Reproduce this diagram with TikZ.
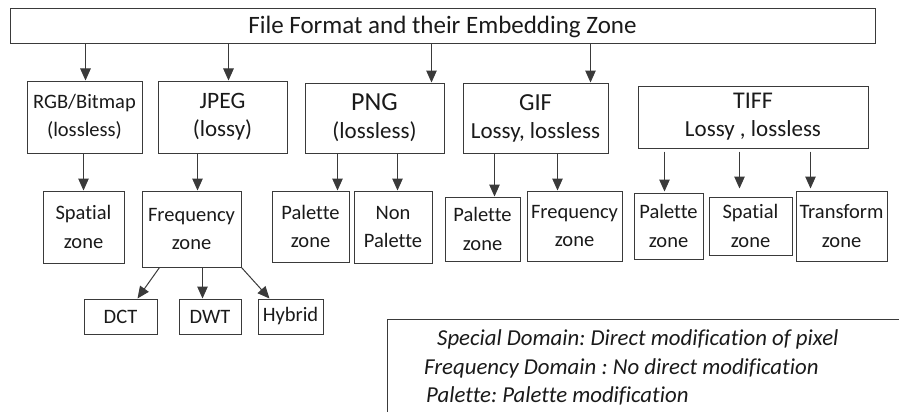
\documentclass[tikz,border=0pt]{standalone}
\usepackage{fontspec}
\setmainfont{Carlito}[Ligatures=NoCommon]
\usetikzlibrary{arrows.meta,calc}
\frenchspacing

\definecolor{linecol}{HTML}{3A3A3A}
\definecolor{textcol}{HTML}{1A1A1A}

\tikzset{
  box/.style={draw=linecol, line width=1pt, inner sep=0pt, align=center,
              text=textcol, font=\fontsize{20.5}{28.5}\selectfont},
  bigbox/.style={box, font=\fontsize{23}{28}\selectfont},
  arr/.style={draw=linecol, line width=1pt, -{Triangle[length=12pt,width=10.5pt]}},
  legend/.style={anchor=base west, inner sep=0pt, text=textcol,
                 font=\fontsize{22.8}{28}\selectfont\itshape},
}

\begin{document}
\begin{tikzpicture}[x=1pt, y=-1pt]
  \useasboundingbox (0,0) rectangle (899,412);

  % title
  \node[box, minimum width=865pt, minimum height=35pt,
        font=\fontsize{25}{30}\selectfont] (title) at (442.5,26.5)
        {File Format and their Embedding Zone};

  % file formats
  \node[box, minimum width=115pt, minimum height=72pt] (rgb) at (84.5,117) {RGB/Bitmap\\(lossless)};
  \node[bigbox, minimum width=129pt, minimum height=72pt] (jpeg) at (222.5,117) {{\fontsize{23.5}{28}\selectfont JPEG}\\(lossy)};
  \node[bigbox, minimum width=139pt, minimum height=70pt] (png) at (374.5,118) {{\fontsize{26}{28}\selectfont PNG}\\(lossless)};
  \node[bigbox, minimum width=145pt, minimum height=70pt] (gif) at (535.5,118) {{\fontsize{24.5}{28}\selectfont GIF}\\Lossy, lossless};
  \node[bigbox, minimum width=230pt, minimum height=62pt] (tiff) at (753,117) {{\fontsize{24}{28}\selectfont TIFF}\\Lossy , lossless};

  % embedding zones
  \node[box, minimum width=81pt, minimum height=72pt] (sp1) at (83.5,227) {Spatial\\zone};
  \node[box, minimum width=99pt, minimum height=76pt] (freq1) at (191.5,229) {Frequency\\zone};
  \node[box, minimum width=77pt, minimum height=71pt] (pal1) at (310.5,226.5) {Palette\\zone};
  \node[box, minimum width=78pt, minimum height=72pt] (nonpal) at (393,227) {Non\\Palette};
  \node[box, minimum width=75pt, minimum height=64pt] (pal2) at (482.5,229) {Palette\\zone};
  \node[box, minimum width=95pt, minimum height=70pt] (freq2) at (574.5,226) {Frequency\\zone};
  \node[box, minimum width=69pt, minimum height=66pt] (pal3) at (668.5,226) {Palette\\zone};
  \node[box, minimum width=83pt, minimum height=58pt] (sp2) at (750.5,226) {Spatial\\zone};
  \node[box, minimum width=91pt, minimum height=70pt] (tr) at (841.5,226) {Transform\\zone};

  % transforms of the frequency zone
  \node[box, minimum width=73pt, minimum height=35pt] (dct) at (120.5,316.5) {DCT};
  \node[box, minimum width=62pt, minimum height=35pt] (dwt) at (210,316.5) {DWT};
  \node[box, minimum width=65pt, minimum height=35pt] (hyb) at (290.5,316.5) {Hybrid};

  % arrow end points
  \coordinate (rgbIn)   at ($(rgb.north west)+(59,0)$);
  \coordinate (jpegIn)  at ($(jpeg.north west)+(71,0)$);
  \coordinate (pngIn)   at ($(png.north west)+(127,0)$);
  \coordinate (gifIn)   at ($(gif.north west)+(128,0)$);
  \coordinate (sp1In)   at ($(sp1.north west)+(41,0)$);
  \coordinate (freq1In) at ($(freq1.north west)+(56,0)$);
  \coordinate (pal1In)  at ($(pal1.north west)+(66,0)$);
  \coordinate (npIn)    at ($(nonpal.north west)+(44,0)$);
  \coordinate (pal2In)  at ($(pal2.north west)+(50,0)$);
  \coordinate (freq2In) at ($(freq2.north west)+(31,0)$);
  \coordinate (pal3In)  at ($(pal3.north west)+(31,-1)$);
  \coordinate (sp2In)   at ($(sp2.north west)+(31,-8)$);
  \coordinate (trIn)    at ($(tr.north west)+(15,-2)$);
  \coordinate (tiffOut) at ([yshift=-3pt]tiff.south);
  \coordinate (dctOut)  at ($(freq1.south west)+(18,0)$);
  \coordinate (dctIn)   at ($(dct.north west)+(54,0)$);
  \coordinate (dwtIn)   at ($(dwt.north west)+(24,0)$);
  \coordinate (hybIn)   at ($(hyb.north west)+(12,0)$);

  % title to formats
  \draw[arr] (title.south -| rgbIn) -- (rgbIn);
  \draw[arr] (title.south -| jpegIn) -- (jpegIn);
  \draw[arr] (title.south -| pngIn) -- (pngIn);
  \draw[arr] (title.south -| gifIn) -- (gifIn);

  % formats to zones
  \draw[arr] (rgb.south -| sp1In) -- (sp1In);
  \draw[arr] (jpeg.south -| freq1In) -- (freq1In);
  \draw[arr] (png.south -| pal1In) -- (pal1In);
  \draw[arr] (png.south -| npIn) -- (npIn);
  \draw[arr] (gif.south -| pal2In) -- (pal2In);
  \draw[arr] (gif.south -| freq2In) -- (freq2In);
  \draw[arr] (tiffOut -| pal3In) -- (pal3In);
  \draw[arr] (tiffOut -| sp2In) -- (sp2In);
  \draw[arr] (tiffOut -| trIn) -- (trIn);

  % frequency zone to transforms
  \draw[arr] (dctOut) -- (dctIn);
  \draw[arr] (freq1.south -| dwtIn) -- (dwtIn);
  \draw[arr] (freq1.south east) -- (hybIn);

  % legend panel
  \coordinate (legTL) at (387,319);
  \draw[linecol, line width=1pt] (899,319) -- (legTL) -- (387,412);
  \node[legend] (leg1) at (437,345) {Special Domain: Direct modification of pixel};
  \node[legend] (leg2) at (424,374) {Frequency Domain : No direct modification};
  \node[legend] (leg3) at (426,402) {Palette: Palette modification};
\end{tikzpicture}
\end{document}
